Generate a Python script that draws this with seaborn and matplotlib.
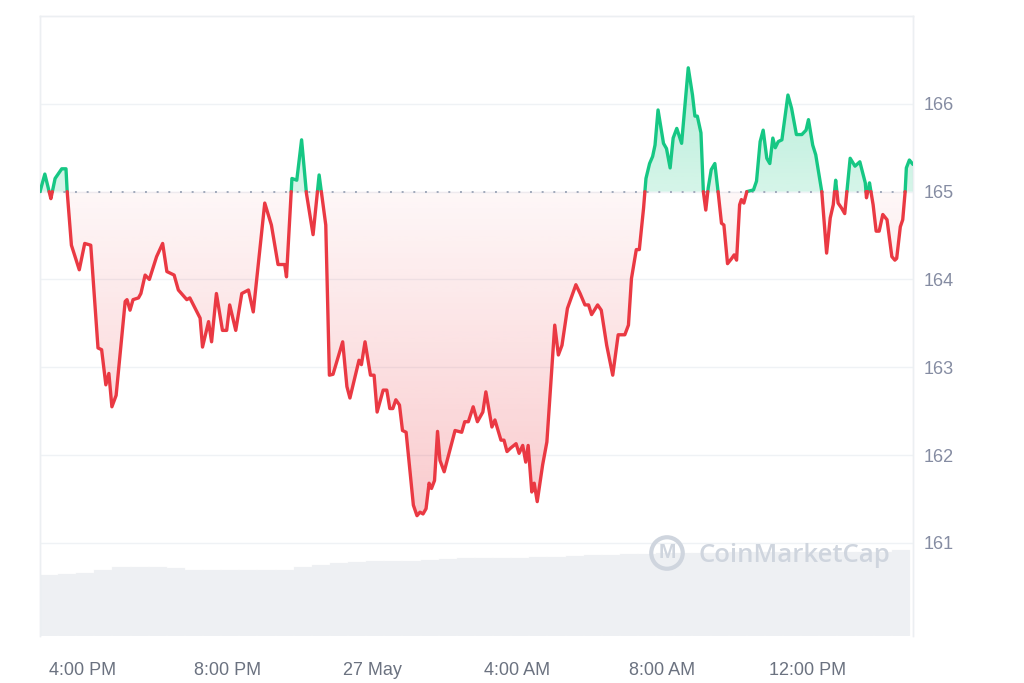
import numpy as np
import pandas as pd
import seaborn as sns
import matplotlib.pyplot as plt
import matplotlib.dates as mdates
from matplotlib.colors import to_rgb
from matplotlib.path import Path

# price data (minutes after 14:50, 26 May)
start = pd.Timestamp('2024-05-26 14:50')
open_price = 165.0

minutes = [0, 8, 18, 25, 36, 43, 45, 52, 65, 74,
           84, 96, 102, 109, 114, 119, 126, 141, 144, 149,
           154, 163, 167, 174, 181, 193, 203, 210, 222, 229,
           243, 248, 265, 269, 279, 284, 292, 302, 309, 314,
           324, 334, 345, 353, 372, 383, 394, 405, 408, 417,
           425, 433, 441, 452, 462, 473, 479, 485, 501, 508,
           513, 528, 532, 538, 547, 553, 558, 568, 574, 579,
           584, 589, 595, 600, 606, 618, 624, 629, 634, 639,
           644, 648, 653, 658, 662, 669, 687, 698, 703, 709,
           717, 724, 733, 738, 748, 753, 763, 768, 773, 779,
           788, 793, 799, 804, 808, 814, 818, 823, 832, 839,
           852, 858, 864, 873, 887, 894, 902, 908, 913, 923,
           929, 938, 948, 957, 968, 974, 979, 987, 992, 999,
           1003, 1009, 1014, 1018, 1023, 1032, 1037, 1043, 1048, 1054,
           1062, 1073, 1080, 1084, 1088, 1094, 1098, 1102, 1106, 1111,
           1117, 1123, 1128, 1132, 1138, 1145, 1149, 1153, 1158, 1161,
           1165, 1170, 1181, 1186, 1192, 1197, 1203, 1208, 1213, 1217,
           1222, 1228, 1238, 1244, 1252, 1261, 1268, 1272, 1279, 1284,
           1294, 1302, 1308, 1313, 1317, 1321, 1327, 1332, 1341, 1349,
           1357, 1366, 1368, 1373, 1379, 1384, 1389, 1395, 1402, 1410,
           1415, 1418, 1424, 1428, 1432, 1434, 1439, 1445]

prices = [165.00, 165.20, 164.92, 165.15, 165.26, 165.26, 165.00, 164.39, 164.11, 164.41,
          164.39, 163.22, 163.20, 162.80, 162.93, 162.55, 162.68, 163.75, 163.77, 163.65,
          163.77, 163.79, 163.84, 164.05, 164.00, 164.26, 164.41, 164.09, 164.05, 163.88,
          163.77, 163.79, 163.56, 163.23, 163.52, 163.29, 163.84, 163.42, 163.42, 163.71,
          163.42, 163.84, 163.88, 163.63, 164.87, 164.62, 164.17, 164.17, 164.03, 165.15,
          165.13, 165.59, 164.98, 164.51, 165.19, 164.62, 162.91, 162.92, 163.29, 162.78,
          162.65, 163.08, 163.03, 163.29, 162.91, 162.91, 162.49, 162.74, 162.74, 162.53,
          162.53, 162.63, 162.57, 162.28, 162.26, 161.43, 161.31, 161.35, 161.33, 161.39,
          161.68, 161.62, 161.71, 162.27, 161.94, 161.81, 162.28, 162.26, 162.38, 162.38,
          162.55, 162.38, 162.49, 162.72, 162.32, 162.40, 162.17, 162.17, 162.04, 162.08,
          162.13, 162.02, 162.11, 161.92, 162.11, 161.58, 161.68, 161.47, 161.89, 162.15,
          163.48, 163.14, 163.25, 163.67, 163.94, 163.84, 163.71, 163.71, 163.60, 163.71,
          163.65, 163.25, 162.91, 163.37, 163.37, 163.48, 164.01, 164.34, 164.34, 164.81,
          165.15, 165.32, 165.40, 165.53, 165.93, 165.55, 165.49, 165.27, 165.61, 165.72,
          165.55, 166.41, 166.10, 165.86, 165.86, 165.67, 165.00, 164.79, 165.04, 165.25,
          165.32, 164.96, 164.64, 164.62, 164.18, 164.24, 164.28, 164.22, 164.85, 164.91,
          164.87, 165.00, 165.02, 165.12, 165.57, 165.70, 165.38, 165.32, 165.61, 165.50,
          165.57, 165.59, 166.10, 165.95, 165.65, 165.65, 165.70, 165.82, 165.53, 165.42,
          165.00, 164.30, 164.70, 164.85, 165.13, 164.87, 164.81, 164.75, 165.38, 165.29,
          165.34, 165.10, 164.93, 165.10, 164.85, 164.55, 164.55, 164.74, 164.68, 164.26,
          164.22, 164.24, 164.60, 164.68, 165.00, 165.27, 165.36, 165.31]

# 24h volume, one bar per 30 minutes (arbitrary units)
volume = [610, 620, 630, 660, 690, 690, 690, 685, 660, 660,
          660, 660, 660, 665, 695, 710, 730, 745, 750, 753,
          755, 760, 770, 777, 777, 777, 780, 790, 795, 805,
          810, 815, 820, 825, 830, 830, 835, 835, 840, 840,
          840, 843, 845, 845, 845, 845, 845, 860]

tick_times = ['2024-05-26 16:00', '2024-05-26 20:00', '2024-05-27 00:00',
              '2024-05-27 04:00', '2024-05-27 08:00', '2024-05-27 12:00']
tick_labels = ['4:00 PM', '8:00 PM', '27 May', '4:00 AM', '8:00 AM', '12:00 PM']
price_ticks = [161, 162, 163, 164, 165, 166]

green = '#16c784'
red = '#ea3943'

x = mdates.date2num(start + pd.to_timedelta(minutes, unit='m'))
p = np.array(prices)

# split the line where it crosses the open price
rows = []
seg = 0
side = 'up' if p[0] >= open_price else 'down'
rows.append((x[0], p[0], side, seg))
for i in range(1, len(p)):
    if p[i] > open_price:
        s = 'up'
    elif p[i] < open_price:
        s = 'down'
    else:
        s = side
    if s != side:
        f = (open_price - p[i - 1]) / (p[i] - p[i - 1])
        xc = x[i - 1] + f * (x[i] - x[i - 1])
        rows.append((xc, open_price, side, seg))
        seg += 1
        side = s
        rows.append((xc, open_price, side, seg))
    rows.append((x[i], p[i], side, seg))
line_df = pd.DataFrame(rows, columns=['x', 'price', 'side', 'seg'])

vol_df = pd.DataFrame({
    'x': mdates.date2num(start + pd.to_timedelta(np.arange(len(volume)) * 30 + 15, unit='m')),
    'volume': volume,
})

sns.set_theme(style='white')
plt.rcParams['font.family'] = ['Liberation Sans', 'DejaVu Sans']

fig = plt.figure(figsize=(10.24, 6.83), dpi=100)
rect = [40 / 1024, 1 - 636 / 683, (913 - 40) / 1024, (636 - 16) / 683]
ax_vol = fig.add_axes(rect)
sns.barplot(data=vol_df, x='x', y='volume', native_scale=True, width=1.0,
            color='#eef0f3', saturation=1, errorbar=None,
            edgecolor='#f2f4f6', linewidth=0.2, ax=ax_vol)
ax_vol.set_ylim(0, 6200)
ax_vol.set_yticks([])
ax_vol.set_ylabel('')
ax_vol.set_xlabel('')

ax = ax_vol.twinx()
ax.set_zorder(ax_vol.get_zorder() + 1)
ax.patch.set_visible(False)

# gradient fills between price and open
x0, x1 = x[0], x[-1]
ylo, yhi = 159.94, 167.0


def gradient_fill(mask, color, y0, y1, a0, a1):
    poly = ax.fill_between(x, p, open_price, where=mask, interpolate=True,
                           facecolor='none', edgecolor='none')
    clip = Path.make_compound_path(*poly.get_paths())
    img = np.zeros((200, 1, 4))
    img[:, :, :3] = to_rgb(color)
    img[:, 0, 3] = np.linspace(a0, a1, 200)
    im = ax.imshow(img, aspect='auto', extent=[x0, x1, y0, y1],
                   origin='lower', zorder=1, interpolation='bilinear')
    im.set_clip_path(clip, ax.transData)


gradient_fill(p <= open_price, red, ylo, open_price, 0.35, 0.04)
gradient_fill(p >= open_price, green, open_price, 166.5, 0.18, 0.32)

ax.axhline(open_price, color='#a0a9bb', linewidth=1.4, linestyle=(0, (1, 5)), zorder=2)

sns.lineplot(data=line_df, x='x', y='price', hue='side', units='seg',
             estimator=None, sort=False, palette={'up': green, 'down': red},
             linewidth=2.4, legend=False, ax=ax, zorder=3)

ax.set_xlim(x0, x1)
ax.set_ylim(ylo, yhi)
ax.set_yticks(price_ticks)
ax.set_yticklabels([str(v) for v in price_ticks])
ax.set_ylabel('')
ax.set_xlabel('')
ax.grid(axis='y', color='#eff2f5', linewidth=1)
ax.grid(axis='x', visible=False)
ax.tick_params(axis='y', length=0, pad=8, labelsize=13, labelcolor='#858ca2')

ax_vol.set_xticks(mdates.date2num(pd.to_datetime(tick_times)))
ax_vol.set_xticklabels(tick_labels)
ax_vol.tick_params(axis='x', length=0, pad=19, labelsize=13, labelcolor='#6b7280')
ax_vol.set_xlim(x0, x1)

for a in (ax, ax_vol):
    for name, sp in a.spines.items():
        sp.set_color('#eceff2')
        sp.set_linewidth(1)
    a.spines['bottom'].set_visible(False)

# watermark
wm = '#cfd5de'
fig.text(667 / 1024, 1 - 553 / 683, 'M', ha='center', va='center', fontsize=15,
         color=wm, fontweight='bold',
         bbox=dict(boxstyle='circle,pad=0.3', fc='none', ec=wm, lw=3))
fig.text(699 / 1024, 1 - 555 / 683, 'CoinMarketCap', ha='left', va='center',
         fontsize=18.5, color=wm, fontweight='semibold', family=['Open Sans', 'DejaVu Sans'])

fig.savefig('out.png', dpi=100, facecolor='white')
